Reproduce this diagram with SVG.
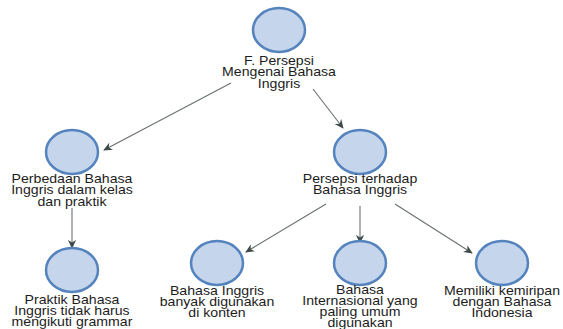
<svg xmlns="http://www.w3.org/2000/svg" width="563" height="329" viewBox="0 0 563 329">
<defs>
<marker id="arr" viewBox="0 0 10 10" refX="9" refY="5" markerWidth="9" markerHeight="9" markerUnits="userSpaceOnUse" orient="auto">
<path d="M0,0.5 L10,5 L0,9.5 L3,5 Z" fill="#3f4a4a"/>
</marker>
<style>
.n{fill:#c5d5eb;stroke:#5583bd;stroke-width:2.5}
.t{font-family:"Liberation Sans",Arial,sans-serif;font-size:12.5px;fill:#1c1c1c;text-anchor:middle}
.c{stroke:#6a6f70;stroke-width:1.1;fill:none;marker-end:url(#arr)}
</style>
</defs>
<rect width="563" height="329" fill="#ffffff"/>
<g id="connectors">
<line class="c" x1="231" y1="83" x2="104" y2="150"/>
<line class="c" x1="313" y1="89" x2="343" y2="128"/>
<line class="c" x1="72" y1="208" x2="72" y2="248"/>
<line class="c" x1="326" y1="204" x2="246" y2="252"/>
<line class="c" x1="360" y1="206" x2="360" y2="243"/>
<line class="c" x1="395" y1="204" x2="472" y2="253"/>
</g>
<g id="root">
<ellipse class="n" cx="279" cy="30" rx="26" ry="22"/>
<g transform="translate(279,0) scale(1.13,1)"><text class="t" x="0" y="65">F. Persepsi<tspan x="0" dy="11.5">Mengenai Bahasa</tspan><tspan x="0" dy="11.5">Inggris</tspan></text></g>
</g>
<g id="perbedaan">
<ellipse class="n" cx="72" cy="152" rx="26" ry="22"/>
<g transform="translate(72,0) scale(1.13,1)"><text class="t" x="0" y="183">Perbedaan Bahasa<tspan x="0" dy="11.5">Inggris dalam kelas</tspan><tspan x="0" dy="11.5">dan praktik</tspan></text></g>
</g>
<g id="persepsi">
<ellipse class="n" cx="360" cy="152" rx="26" ry="22"/>
<g transform="translate(360,0) scale(1.13,1)"><text class="t" x="0" y="183">Persepsi terhadap<tspan x="0" dy="11.5">Bahasa Inggris</tspan></text></g>
</g>
<g id="praktik">
<ellipse class="n" cx="72" cy="270" rx="26" ry="22"/>
<g transform="translate(72,0) scale(1.13,1)"><text class="t" x="0" y="304">Praktik Bahasa<tspan x="0" dy="11">Inggris tidak harus</tspan><tspan x="0" dy="11">mengikuti grammar</tspan></text></g>
</g>
<g id="konten">
<ellipse class="n" cx="217" cy="263" rx="26" ry="22"/>
<g transform="translate(217,0) scale(1.13,1)"><text class="t" x="0" y="295">Bahasa Inggris<tspan x="0" dy="11">banyak digunakan</tspan><tspan x="0" dy="11">di konten</tspan></text></g>
</g>
<g id="internasional">
<ellipse class="n" cx="360" cy="263" rx="26" ry="22"/>
<g transform="translate(360,0) scale(1.13,1)"><text class="t" x="0" y="294">Bahasa<tspan x="0" dy="11">Internasional yang</tspan><tspan x="0" dy="11">paling umum</tspan><tspan x="0" dy="11">digunakan</tspan></text></g>
</g>
<g id="kemiripan">
<ellipse class="n" cx="502" cy="263" rx="26" ry="22"/>
<g transform="translate(502,0) scale(1.13,1)"><text class="t" x="0" y="295">Memiliki kemiripan<tspan x="0" dy="11">dengan Bahasa</tspan><tspan x="0" dy="11">Indonesia</tspan></text></g>
</g>
</svg>
